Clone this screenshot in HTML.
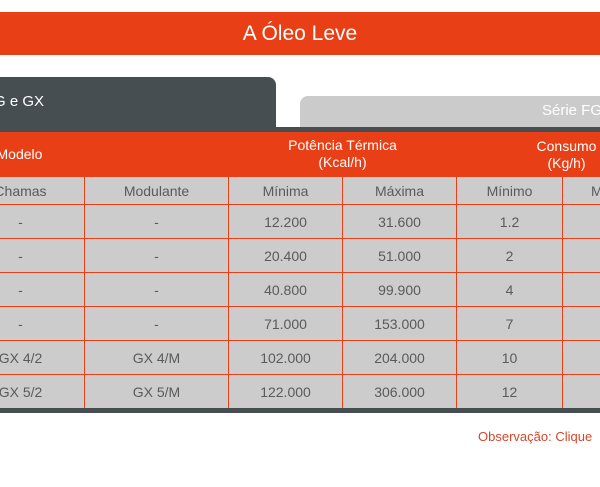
<!DOCTYPE html>
<html><head><meta charset="utf-8"><style>
body{margin:0;width:600px;height:487px;background:#fff;overflow:hidden;position:relative;font-family:"Liberation Sans",sans-serif}
.abs{position:absolute}
.title{left:0;top:12px;width:600px;height:43px;background:#e83f16;color:#fff;font-size:21px;text-align:center;line-height:43px}
.tab1{left:-10px;top:77px;width:286px;height:55px;background:#474e52;border-radius:0 8px 0 0;color:#fff;font-size:15px}
.tab2{left:300px;top:96px;width:300px;height:31px;background:#cbcbcb;border-radius:8px 0 0 0;color:#fff;font-size:15px;overflow:hidden}
.strip{left:0;top:127px;width:600px;height:6px;background:#474e52}
.wrap{left:0;top:132px;width:600px;height:280px;overflow:hidden}
table{position:absolute;left:-44px;top:0;border-collapse:collapse;table-layout:fixed;width:812px;font-size:14px;color:#5a5a5a}
td{border:1px solid #e83f16;background:#cccccc;text-align:center;height:33px;padding:0;white-space:nowrap;overflow:hidden}
tr.h td{background:#e83f16;color:#fff;height:44px;border:none;line-height:17px}
tr.s td{height:27px}
.bottom{left:0;top:408px;width:600px;height:5px;background:#474e52}
.obs{left:478px;top:429px;color:#d6452a;font-size:13px;white-space:nowrap}
</style></head><body>
<div class="abs title">A Óleo Leve</div>
<div class="abs tab1"><span style="position:absolute;left:4px;top:16px">G e GX</span></div>
<div class="abs tab2"><span style="position:absolute;left:242px;top:6px;white-space:nowrap">Série FG</span></div>
<div class="abs strip"></div>
<div class="abs wrap">
<table>
<colgroup><col style="width:128px"><col style="width:144px"><col style="width:114px"><col style="width:114px"><col style="width:106px"><col style="width:106px"><col style="width:100px"></colgroup>
<tr class="h"><td colspan="2" style="text-align:left;padding-left:40px">Modelo</td><td colspan="2">Potência Térmica<br>(Kcal/h)</td><td colspan="3"><span style="position:absolute;left:570px;top:6px;width:80px;text-align:center">Consumo<br>(Kg/h)</span></td></tr>
<tr class="s"><td>Chamas</td><td>Modulante</td><td>Mínima</td><td>Máxima</td><td>Mínimo</td><td style="text-align:left;padding-left:28px">M</td><td></td></tr>
<tr><td>-</td><td>-</td><td>12.200</td><td>31.600</td><td>1.2</td><td></td><td></td></tr>
<tr><td>-</td><td>-</td><td>20.400</td><td>51.000</td><td>2</td><td></td><td></td></tr>
<tr><td>-</td><td>-</td><td>40.800</td><td>99.900</td><td>4</td><td></td><td></td></tr>
<tr><td>-</td><td>-</td><td>71.000</td><td>153.000</td><td>7</td><td></td><td></td></tr>
<tr><td>GX 4/2</td><td>GX 4/M</td><td>102.000</td><td>204.000</td><td>10</td><td></td><td></td></tr>
<tr><td>GX 5/2</td><td>GX 5/M</td><td>122.000</td><td>306.000</td><td>12</td><td></td><td></td></tr>
</table>
</div>
<div class="abs bottom"></div>
<div class="abs obs">Observação: Clique</div>
</body></html>
